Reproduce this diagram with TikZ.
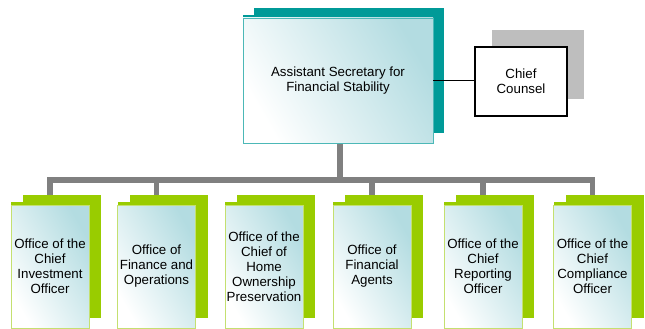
\documentclass[tikz,border=0pt]{standalone}
\usepackage{fontspec}
\setmainfont{Liberation Sans}
\usetikzlibrary{positioning,shadows}
\pgfdeclarelayer{background}
\pgfsetlayers{background,main}
\definecolor{tealshade}{HTML}{009A98}
\definecolor{limeshade}{HTML}{99CC00}
\definecolor{paleblue}{HTML}{B3DCE1}
\definecolor{limeline}{HTML}{C4E070}
\definecolor{linkgray}{HTML}{808080}
\definecolor{counselgray}{HTML}{BEBEBE}
\tikzset{
  boxtext/.style={font=\fontsize{13.3}{15}\selectfont, align=center, inner sep=1pt},
  headbox/.style={boxtext, draw=tealshade!70, line width=0.8pt,
    bottom color=white, top color=paleblue, shading angle=-60,
    minimum width=190, minimum height=125,
    copy shadow={shadow xshift=11pt, shadow yshift=10pt, fill=tealshade, draw=none},
    copy shadow={shadow xshift=0pt, shadow yshift=3pt, fill=tealshade, draw=none}},
  officebox/.style={boxtext, draw=limeline, line width=0.8pt,
    bottom color=white, top color=paleblue, shading angle=-60,
    minimum width=78, minimum height=123,
    copy shadow={shadow xshift=12pt, shadow yshift=10pt, fill=limeshade, draw=none},
    copy shadow={shadow xshift=0pt, shadow yshift=3pt, fill=limeshade, draw=none}},
  counselbox/.style={boxtext, draw=black, line width=1.5pt, fill=white,
    minimum width=92, minimum height=69,
    copy shadow={shadow xshift=17pt, shadow yshift=17pt, fill=counselgray, draw=none}},
  grayline/.style={draw=linkgray, line width=5.5pt},
}
\begin{document}
\begin{tikzpicture}[x=1pt, y=-1pt]
  \useasboundingbox (0,0) rectangle (645,329);

  % top level
  \node[headbox] (asst) at (338, 80.5) {Assistant Secretary for\\Financial Stability};
  \node[counselbox] (counsel) at (521, 81.5) {Chief\\Counsel};

  % offices
  \node[officebox] (invest) at (50, 266.5) {Office of the\\Chief\\Investment\\Officer};
  \node[officebox] (finops) at (156.5, 266.5) {Office of\\Finance and\\Operations};
  \node[officebox] (home) at (264, 266.5) {Office of the\\Chief of\\Home\\Ownership\\Preservation};
  \node[officebox] (agents) at (372, 266.5) {Office of\\Financial\\Agents};
  \node[officebox] (report) at (483, 266.5) {Office of the\\Chief\\Reporting\\Officer};
  \node[officebox] (comply) at (592.5, 266.5) {Office of the\\Chief\\Compliance\\Officer};

  \coordinate (bar) at (340, 180);

  \draw[line width=1.8pt] (asst.east) -- (asst.east -| counsel.west);

  \begin{pgfonlayer}{background}
    \draw[grayline] (bar |- asst.south) -- (bar);
    \draw[grayline] (bar) -| (invest.north);
    \draw[grayline] (bar) -| (finops.north);
    \draw[grayline] (bar) -| (agents.north);
    \draw[grayline] (bar) -| (report.north);
    \draw[grayline] (bar) -| (comply.north);
  \end{pgfonlayer}
\end{tikzpicture}
\end{document}
